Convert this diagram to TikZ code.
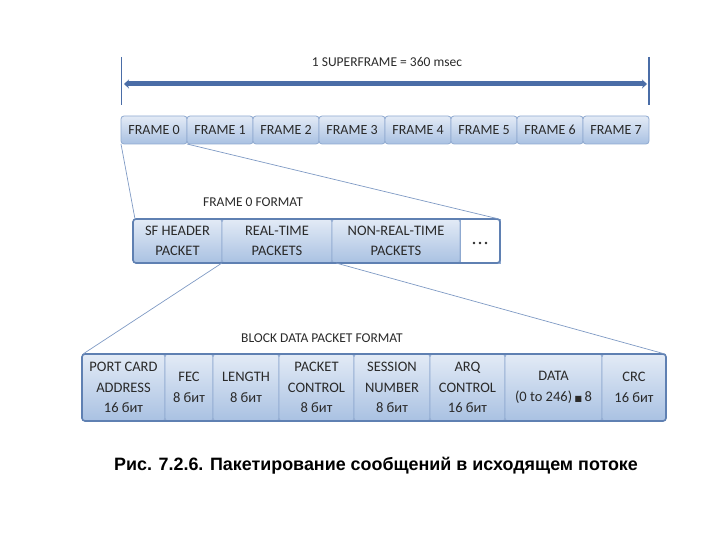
\documentclass[tikz,border=0pt]{standalone}
\usepackage{fontspec}
\setmainfont{Carlito}
\newfontfamily\capfont{Liberation Sans}
\usetikzlibrary{arrows.meta}
\definecolor{boxtop}{HTML}{E3EBF6}
\definecolor{boxbot}{HTML}{A9C1E2}
\definecolor{boxline}{HTML}{8FA9D0}
\definecolor{rowline}{HTML}{5F80B2}
\definecolor{arrowblue}{HTML}{4A6DA7}
\definecolor{conn}{HTML}{7F9AC4}
\definecolor{txt}{HTML}{2A2A2A}
\tikzset{
  cell/.style={draw=boxline, line width=0.8pt, rounded corners=3pt, top color=boxtop, bottom color=boxbot},
  celltext/.style={text=txt, font=\fontsize{14.5}{20.5}\selectfont, align=center},
  frametext/.style={text=txt, font=\fontsize{14}{17}\selectfont, text height=9.5pt, text depth=0pt},
  rowframe/.style={draw=rowline, line width=1.6pt, rounded corners=3pt},
  connline/.style={draw=conn, line width=0.7pt},
  lbl/.style={text=txt, font=\fontsize{13.5}{16}\selectfont}
}
\begin{document}
\begin{tikzpicture}[x=1pt,y=-1pt]
\useasboundingbox (0,0) rectangle (720,540);
% superframe
\coordinate (vl1) at (121.5,57); \coordinate (vl2) at (121.5,105);
\coordinate (vr1) at (649,57); \coordinate (vr2) at (649,105);
\draw[arrowblue, line width=1.4pt] (vl1) -- (vl2);
\draw[arrowblue, line width=1.4pt] (vr1) -- (vr2);
\coordinate (al) at (124,84); \coordinate (ar) at (647,84);
\draw[arrowblue, line width=5pt, {Stealth[length=5pt,width=9pt]}-{Stealth[length=5pt,width=9pt]}] (al) -- (ar);
\node[lbl] (sf) at (387,62) {1 SUPERFRAME = 360 msec};
% frames
\foreach \i in {0,...,7}{
  \path[cell] ({121+66*\i},116) rectangle ({187+66*\i},144);
  \node[frametext] (f\i) at ({154+66*\i},130) {FRAME \i};
}
\coordinate (f0bl) at (121,144); \coordinate (f0br) at (187,144);
% frame 0 format
\node[lbl] (f0fmt) at (253,202) {FRAME 0 FORMAT};
\path[cell] (133,219) rectangle (222,263);
\path[cell] (222,219) rectangle (332,263);
\path[cell] (332,219) rectangle (460,263);
\path[draw=boxline, fill=white, line width=0.8pt] (460,219) rectangle (500,263);
\draw[rowframe] (133,219) rectangle (500,263);
\node[celltext] (sfh) at (177.5,241) {SF HEADER\\PACKET};
\node[celltext] (rt) at (277,241) {REAL-TIME\\PACKETS};
\node[celltext] (nrt) at (396,241) {NON-REAL-TIME\\PACKETS};
\node[text=txt, inner sep=0pt] (dots) at (480,243) {\tikz[baseline]{\foreach \k in {0,1,2}{\fill (\k*6pt,0) circle (1.4pt);}}};
\coordinate (r2tl) at (135,219); \coordinate (r2tr) at (499,219);
\draw[connline] (f0bl) -- (r2tl);
\draw[connline] (f0br) -- (r2tr);
% block data packet
\node[lbl] (bfmt) at (322,338) {BLOCK DATA PACKET FORMAT};
\foreach \a/\b/\t in {82/165/{PORT CARD\\ADDRESS\\16 бит}, 165/213/{FEC\\8 бит}, 213/279/{LENGTH\\8 бит}, 279/354/{PACKET\\CONTROL\\8 бит}, 354/430/{SESSION\\NUMBER\\8 бит}, 430/505/{ARQ\\CONTROL\\16 бит}, 505/602/{DATA\\(0 to 246)\,{\fontspec{DejaVu Sans}\fontsize{8}{8}\selectfont■}\,8}, 602/666/{CRC\\16 бит}}{
  \path[cell] (\a,354) rectangle (\b,421);
  \node[celltext] at ({(\a+\b)/2},387.5) {\t};
}
\draw[rowframe] (82,354) rectangle (666,421);
\coordinate (rtbl) at (222,263); \coordinate (rtbr) at (336,263);
\coordinate (r3tl) at (83,354); \coordinate (r3tr) at (665,354);
\draw[connline] (rtbl) -- (r3tl);
\draw[connline] (rtbr) -- (r3tr);
% caption
\node[font=\capfont\bfseries\fontsize{17.9}{20}\selectfont, text=black] (cap) at (376,466) {Рис. 7.2.6. Пакетирование сообщений в исходящем потоке};
\end{tikzpicture}
\end{document}
